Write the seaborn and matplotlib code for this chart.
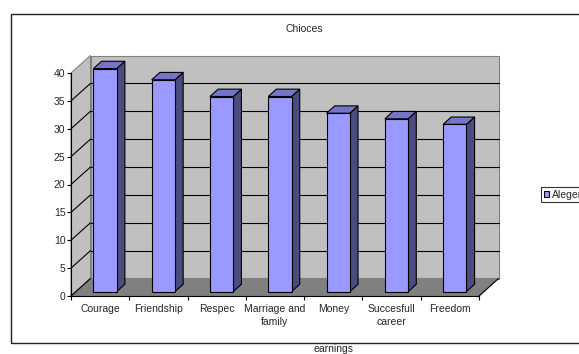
import matplotlib
matplotlib.use("Agg")
import matplotlib.pyplot as plt
from matplotlib.patches import Polygon, Rectangle
from matplotlib.lines import Line2D
from matplotlib.transforms import ScaledTranslation, IdentityTransform
import numpy as np
import pandas as pd
import seaborn as sns

# ---- data -------------------------------------------------------------
categories = ["Courage", "Friendship", "Respec", "Marriage and\nfamily",
              "Money", "Succesfull\ncareer", "Freedom"]
values = [40, 38, 35, 35, 32, 31, 30]
series_name = "Alegeri"
y_ticks = [0, 5, 10, 15, 20, 25, 30, 35, 40]

# ---- style ------------------------------------------------------------
sns.set_theme(style="white")
plt.rcParams["font.family"] = ["Liberation Sans", "DejaVu Sans"]
FS = 7.5

FRONT = "#9999FF"
SIDE = "#4B4B80"
TOP = "#7575C8"
WALL = "#C0C0C0"
FLOOR = "#808080"

W, H, DPI = 5.79, 3.54, 100
fig = plt.figure(figsize=(W, H), dpi=DPI)
fig.patch.set_facecolor("white")

# front plane of the 3-D box, in figure pixels
left_px, right_px, base_px, top_px = 71, 479, 296, 73
ax = fig.add_axes([left_px / 579, (354 - base_px) / 354,
                   (right_px - left_px) / 579, (base_px - top_px) / 354])
ax.set_facecolor("none")

# depth vector of the box (pixels, display coords: +y is up)
DX, DY = 19.5, 17.5
BAR_FRONT = 0.25   # depth fraction of bar front face
BAR_DEPTH = 0.42   # depth fraction taken by the bar

df = pd.DataFrame({"choice": categories, "count": values})
sns.barplot(data=df, x="choice", y="count", color=FRONT, saturation=1,
            width=0.4, edgecolor="black", linewidth=0.8, ax=ax, zorder=5)

n = len(categories)
ax.set_xlim(-0.5, n - 0.5)
ax.set_ylim(0, 40)

T = ax.transData


def disp(x, y, f=0.0):
    p = T.transform((x, y))
    return (p[0] + f * DX, p[1] + f * DY)


x0, x1 = -0.5, n - 0.5
ident = IdentityTransform()

# walls and floor
back = [disp(x0, 0, 1), disp(x1, 0, 1), disp(x1, 40, 1), disp(x0, 40, 1)]
side = [disp(x0, 0), disp(x0, 40), disp(x0, 40, 1), disp(x0, 0, 1)]
floor = [disp(x0, 0), disp(x1, 0), disp(x1, 0, 1), disp(x0, 0, 1)]
for pts, col in [(back, WALL), (side, WALL), (floor, FLOOR)]:
    ax.add_patch(Polygon(pts, closed=True, facecolor=col, edgecolor="#808080",
                         linewidth=0.8, transform=ident, clip_on=False,
                         zorder=0.5))

# gridlines on back wall and side wall
for v in y_ticks[1:-1]:
    a, b = disp(x0, v, 1), disp(x1, v, 1)
    ax.add_line(Line2D([a[0], b[0]], [a[1], b[1]], color="black", lw=0.8,
                       transform=ident, clip_on=False, zorder=1))
for v in y_ticks[1:-1]:
    a, b = disp(x0, v), disp(x0, v, 1)
    ax.add_line(Line2D([a[0], b[0]], [a[1], b[1]], color="black", lw=0.8,
                       transform=ident, clip_on=False, zorder=1))
# floor edges
for xe in (x0, x1):
    a, b = disp(xe, 0), disp(xe, 0, 1)
    ax.add_line(Line2D([a[0], b[0]], [a[1], b[1]], color="black", lw=0.8,
                       transform=ident, clip_on=False, zorder=1))

# 3-D bars: shift seaborn's front faces back and add side/top faces
shift = ScaledTranslation(BAR_FRONT * DX / DPI, BAR_FRONT * DY / DPI,
                          fig.dpi_scale_trans)
f0, f1 = BAR_FRONT, BAR_FRONT + BAR_DEPTH
for p in list(ax.patches):
    if not isinstance(p, Rectangle) or p.get_transform() is ident:
        continue
    bx, bw, bh = p.get_x(), p.get_width(), p.get_height()
    if bw <= 0 or bh <= 0:
        continue
    p.set_transform(T + shift)
    p.set_clip_on(False)
    side_pts = [disp(bx + bw, 0, f0), disp(bx + bw, 0, f1),
                disp(bx + bw, bh, f1), disp(bx + bw, bh, f0)]
    top_pts = [disp(bx, bh, f0), disp(bx + bw, bh, f0),
               disp(bx + bw, bh, f1), disp(bx, bh, f1)]
    for pts, col in [(side_pts, SIDE), (top_pts, TOP)]:
        ax.add_patch(Polygon(pts, closed=True, facecolor=col,
                             edgecolor="black", linewidth=0.8,
                             transform=ident, clip_on=False, zorder=4))

# axes lines and ticks
for s in ["top", "right"]:
    ax.spines[s].set_visible(False)
for s in ["left", "bottom"]:
    ax.spines[s].set_color("black")
    ax.spines[s].set_linewidth(0.8)
    ax.spines[s].set_zorder(6)

ax.set_yticks(y_ticks)
ax.set_yticklabels([str(v) for v in y_ticks], fontsize=FS)
ax.tick_params(axis="y", which="major", direction="out", length=3,
               width=0.8, color="black", pad=1, left=True)

ax.set_xticks(range(n))
ax.set_xticklabels(categories, fontsize=FS, linespacing=1.35)
ax.set_xticks(np.arange(-0.5, n, 1.0), minor=True)
ax.tick_params(axis="x", which="major", length=0, pad=6)
ax.tick_params(axis="x", which="minor", direction="out", length=3,
               width=0.8, color="black", bottom=True)
for lab in ax.get_xticklabels():
    lab.set_verticalalignment("top")

ax.set_ylabel("")
ax.set_xlabel("earnings", fontsize=FS)
ax.xaxis.set_label_coords((334 - left_px) / (right_px - left_px),
                          (base_px - 349) / (base_px - top_px))
ax.xaxis.label.set_verticalalignment("center")

# title
fig.text(304 / 579, 1 - 29 / 354, "Chioces", fontsize=FS,
         ha="center", va="center")

# outer chart frame (runs past the right edge)
fig.add_artist(Rectangle((11 / 579, (354 - 343) / 354),
                         1.2, (343 - 14) / 354, transform=fig.transFigure,
                         facecolor="none", edgecolor="#222222",
                         linewidth=1.0, clip_on=False))

# legend box (extends past the right edge)
handle = Rectangle((0, 0), 1, 1, facecolor=FRONT, edgecolor="black",
                   linewidth=0.8)
leg = fig.legend([handle], [series_name], loc="upper left",
                 bbox_to_anchor=(541 / 579, 1 - 187 / 354),
                 fontsize=FS, frameon=True, fancybox=False,
                 handlelength=0.55, handleheight=0.55, handletextpad=0.3,
                 borderpad=0.25, borderaxespad=0)
leg.get_frame().set_edgecolor("black")
leg.get_frame().set_linewidth(0.8)

fig.savefig("out.png", dpi=DPI, facecolor="white")
